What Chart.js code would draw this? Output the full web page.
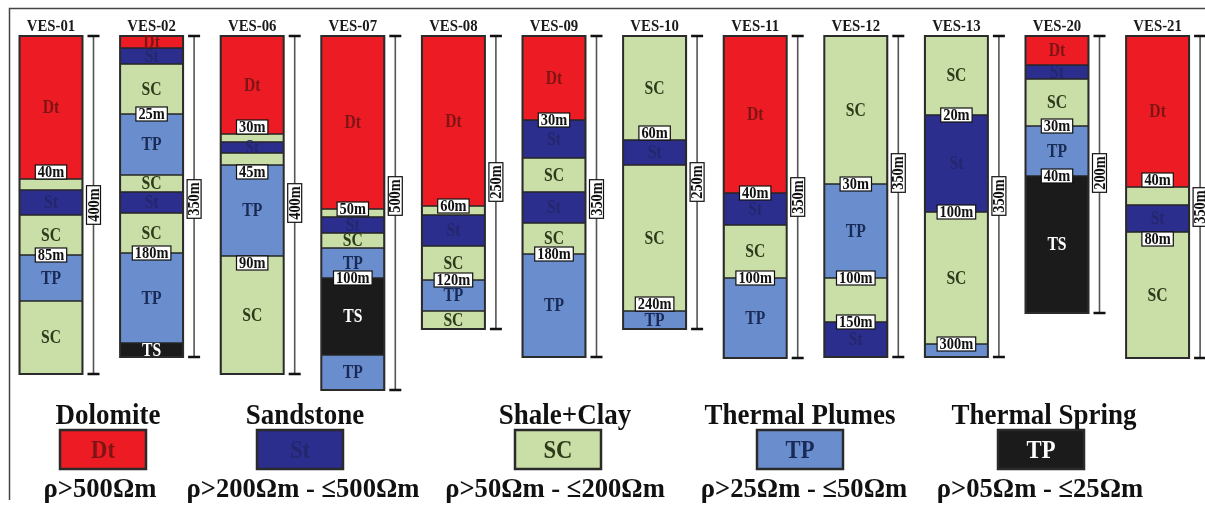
<!DOCTYPE html>
<html><head><meta charset="utf-8">
<script src="https://cdn.jsdelivr.net/npm/chart.js@4.4.1/dist/chart.umd.min.js"></script>
<style>html,body{margin:0;padding:0;background:#fff;overflow:hidden}#wrap{width:1205px;height:506px;position:relative}</style>
</head><body><div id="wrap"><canvas id="c" width="1205" height="506"></canvas></div>
<script>
// ---------------- DATA ----------------
const wells = ['VES-01','VES-02','VES-06','VES-07','VES-08','VES-09','VES-10','VES-11','VES-12','VES-13','VES-20','VES-21'];
// Each log: [lithology code, top, bottom, code shown] in drawn depth units (0 = surface)
const ves01 = [['Dt',0,143,1],['SC',143,154,0],['St',154,179,1],['SC',179,219,1],['TP',219,265,1],['SC',265,338,1]];
const ves02 = [['Dt',0,12,1],['St',12,28,1],['SC',28,78,1],['TP',78,139,1],['SC',139,156,1],['St',156,177,1],['SC',177,217,1],['TP',217,307,1],['TS',307,321,1]];
const ves06 = [['Dt',0,98,1],['SC',98,106,0],['St',106,117,1],['SC',117,129,0],['TP',129,220,1],['SC',220,338,1]];
const ves07 = [['Dt',0,173,1],['SC',173,181,0],['St',181,197,1],['SC',197,212,1],['TP',212,242,1],['TS',242,319,1],['TP',319,354,1]];
const ves08 = [['Dt',0,170,1],['SC',170,179,0],['St',179,210,1],['SC',210,244,1],['TP',244,275,1],['SC',275,293,1]];
const ves09 = [['Dt',0,84,1],['St',84,122,1],['SC',122,156,1],['St',156,187,1],['SC',187,218,1],['TP',218,321,1]];
const ves10 = [['SC',0,104,1],['St',104,129,1],['SC',129,275,1],['TP',275,293,1]];
const ves11 = [['Dt',0,157,1],['St',157,189,1],['SC',189,242,1],['TP',242,322,1]];
const ves12 = [['SC',0,148,1],['TP',148,242,1],['SC',242,286,0],['St',286,321,1]];
const ves13 = [['SC',0,79,1],['St',79,176,1],['SC',176,308,1],['TP',308,321,0]];
const ves20 = [['Dt',0,29,1],['St',29,43,1],['SC',43,90,1],['TP',90,140,1],['TS',140,277,1]];
const ves21 = [['Dt',0,151,1],['SC',151,169,0],['St',169,196,1],['SC',196,322,1]];
const logs = [ves01,ves02,ves06,ves07,ves08,ves09,ves10,ves11,ves12,ves13,ves20,ves21];

// Interface depth labels: [text, depth, placement (-1 above, 0 on, 1 below)]
const marks01 = [['40m',143,-1],['85m',219,0]];
const marks02 = [['25m',78,0],['180m',217,0]];
const marks06 = [['30m',98,-1],['45m',129,1],['90m',220,1]];
const marks07 = [['50m',173,0],['100m',242,0]];
const marks08 = [['60m',170,0],['120m',244,0]];
const marks09 = [['30m',84,0],['180m',218,0]];
const marks10 = [['60m',104,-1],['240m',275,-1]];
const marks11 = [['40m',157,0],['100m',242,0]];
const marks12 = [['30m',148,0],['100m',242,0],['150m',286,0]];
const marks13 = [['20m',79,0],['100m',176,0],['300m',308,0]];
const marks20 = [['30m',90,0],['40m',140,0]];
const marks21 = [['40m',151,-1],['80m',196,1]];
const marks = [marks01,marks02,marks06,marks07,marks08,marks09,marks10,marks11,marks12,marks13,marks20,marks21];

// Total depth (scale bar) labels
const totalDepthLabels = ['400m','350m','400m','500m','250m','350m','250m','350m','350m','350m','200m','350m'];

// Legend
const lithoCodes = ['Dt','St','SC','TP','TS'];
const lithoNames = ['Dolomite','Sandstone','Shale+Clay','Thermal Plumes','Thermal Spring'];
const legendCodes = ['Dt','St','SC','TP','TP'];
const legendRanges = ['\u03C1>500\u03A9m','\u03C1>200\u03A9m - \u2264500\u03A9m','\u03C1>50\u03A9m - \u2264200\u03A9m','\u03C1>25\u03A9m - \u226450\u03A9m','\u03C1>05\u03A9m - \u226425\u03A9m'];

// ---------------- STYLE ----------------
const FILL = {Dt:'#ED1C24', St:'#2B2E8C', SC:'#C9DFA7', TP:'#6A8ECD', TS:'#1B1B1B'};
const INK  = {Dt:'#7E1414', St:'#24276E', SC:'#2E3A1A', TP:'#1A2A56', TS:'#FFFFFF'};
const FONT = '"Liberation Serif","Times New Roman",serif';
const SX = 0.87;              // horizontal condensation of the lettering
const BAR_W = 63;
const scaleLabelAt = [169,163,167,160,146,163,146,161,137,160,137,171];
const legendTitleX = [108,305,565,800,1044];
const legendBoxX   = [103,300,558,800,1041];
const legendRangeX = [100,303,555,804,1040];

// Build datasets (one per lithology) from the logs
const datasets = lithoCodes.map(code => {
  const pts = [];
  logs.forEach((log, wi) => log.forEach(l => { if (l[0] === code) pts.push({x: wi, y: [l[1], l[2]]}); }));
  return {label: code, data: pts, backgroundColor: FILL[code], borderColor: '#262626',
          borderWidth: 1, borderSkipped: false, barThickness: BAR_W, grouped: false};
});

function ctext(ctx, t, x, y, sx) {
  ctx.save(); ctx.translate(x, y); ctx.scale(sx, 1); ctx.fillText(t, 0, 0); ctx.restore();
}

const decor = {
  id: 'decor',
  afterDatasetsDraw(chart) {
    const ctx = chart.ctx, xs = chart.scales.x, ys = chart.scales.y;
    ctx.save();
    ctx.textAlign = 'center'; ctx.textBaseline = 'middle';
    logs.forEach((log, wi) => {
      const cx = xs.getPixelForValue(wi);
      const left = cx - BAR_W / 2, right = cx + BAR_W / 2;
      const top = ys.getPixelForValue(0), bottom = ys.getPixelForValue(log[log.length - 1][2]);
      ctx.strokeStyle = '#2b2b2b'; ctx.lineWidth = 2;
      ctx.strokeRect(left, top, BAR_W, bottom - top);
      ctx.font = 'bold 18px ' + FONT;
      log.forEach(l => {
        if (!l[3]) return;
        const ym = (ys.getPixelForValue(l[1]) + ys.getPixelForValue(l[2])) / 2;
        ctx.fillStyle = INK[l[0]];
        ctext(ctx, l[0], cx, ym + 1, SX);
      });
      ctx.fillStyle = '#1a1a1a'; ctx.font = 'bold 17px ' + FONT;
      ctext(ctx, wells[wi], cx, 27, SX);
      ctx.font = 'bold 16px ' + FONT;
      marks[wi].forEach(m => {
        const w = ctx.measureText(m[0]).width * 0.9 + 5, h = 14;
        const y = ys.getPixelForValue(m[1]) + m[2] * 7;
        ctx.fillStyle = '#fff'; ctx.fillRect(cx - w / 2, y - h / 2, w, h);
        ctx.strokeStyle = '#111'; ctx.lineWidth = 1.2; ctx.strokeRect(cx - w / 2, y - h / 2, w, h);
        ctx.fillStyle = '#111'; ctext(ctx, m[0], cx, y + 1, 0.9);
      });
      const sx = right + 11;
      ctx.strokeStyle = '#555'; ctx.lineWidth = 1.6;
      ctx.beginPath(); ctx.moveTo(sx, top); ctx.lineTo(sx, bottom); ctx.stroke();
      ctx.strokeStyle = '#111'; ctx.lineWidth = 2.5;
      ctx.beginPath(); ctx.moveTo(sx - 6, top); ctx.lineTo(sx + 6, top);
      ctx.moveTo(sx - 6, bottom); ctx.lineTo(sx + 6, bottom); ctx.stroke();
      const ly = ys.getPixelForValue(scaleLabelAt[wi]);
      ctx.save(); ctx.translate(sx, ly); ctx.rotate(-Math.PI / 2);
      ctx.font = 'bold 16px ' + FONT;
      const tw = ctx.measureText(totalDepthLabels[wi]).width * 0.9 + 5;
      ctx.fillStyle = '#fff'; ctx.fillRect(-tw / 2, -7, tw, 14);
      ctx.strokeStyle = '#111'; ctx.lineWidth = 1.2; ctx.strokeRect(-tw / 2, -7, tw, 14);
      ctx.fillStyle = '#111'; ctext(ctx, totalDepthLabels[wi], 0, 1, 0.9);
      ctx.restore();
    });
    ctx.strokeStyle = '#444'; ctx.lineWidth = 1.5;
    ctx.beginPath(); ctx.moveTo(1205, 8.5); ctx.lineTo(9.5, 8.5); ctx.lineTo(9.5, 500); ctx.stroke();
    lithoNames.forEach((n, i) => {
      ctx.fillStyle = '#111'; ctx.font = 'bold 29px ' + FONT;
      ctext(ctx, n, legendTitleX[i], 417, 0.93);
      const code = i === 4 ? 'TS' : lithoCodes[i];
      const bx = legendBoxX[i] - 43;
      ctx.fillStyle = FILL[code]; ctx.fillRect(bx, 430, 86, 39);
      ctx.strokeStyle = '#2a2a2a'; ctx.lineWidth = 2.5; ctx.strokeRect(bx, 430, 86, 39);
      ctx.fillStyle = INK[code]; ctx.font = 'bold 26px ' + FONT;
      ctext(ctx, legendCodes[i], legendBoxX[i], 451, SX);
      ctx.fillStyle = '#111'; ctx.font = 'bold 28px ' + FONT;
      ctext(ctx, legendRanges[i], legendRangeX[i], 490, 0.95);
    });
    ctx.restore();
  }
};

new Chart(document.getElementById('c'), {
  type: 'bar',
  data: {datasets},
  options: {
    responsive: false, animation: false,
    layout: {padding: {top: 36, bottom: 70, left: 10, right: 5}},
    plugins: {legend: {display: false}, tooltip: {enabled: false}},
    scales: {
      x: {type: 'linear', min: -0.40755, max: 11.4215, offset: false, display: false},
      y: {type: 'linear', min: 0, max: 400, reverse: true, display: false}
    }
  },
  plugins: [decor]
});
</script></body></html>
